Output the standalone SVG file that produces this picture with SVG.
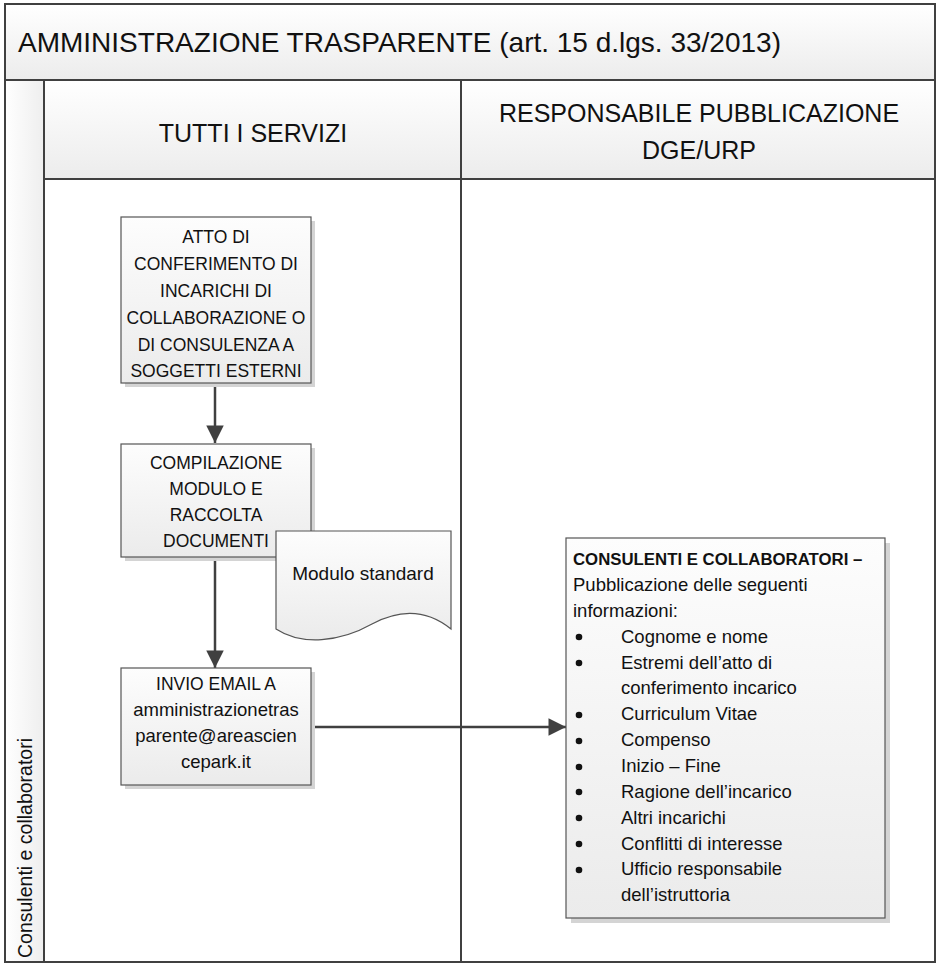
<svg xmlns="http://www.w3.org/2000/svg" width="940" height="967" viewBox="0 0 940 967">
<defs>
<linearGradient id="gBand" x1="0" y1="0" x2="0" y2="1"><stop offset="0" stop-color="#ffffff"/><stop offset="1" stop-color="#ececec"/></linearGradient>
<linearGradient id="gStrip" x1="0" y1="0" x2="1" y2="0"><stop offset="0" stop-color="#ffffff"/><stop offset="1" stop-color="#eeeeee"/></linearGradient>
<linearGradient id="gBox" x1="0" y1="0" x2="0" y2="1"><stop offset="0" stop-color="#fdfdfd"/><stop offset="1" stop-color="#ebebeb"/></linearGradient>
<marker id="arr" viewBox="0 0 10 10" refX="10" refY="5" markerWidth="7.2" markerHeight="7" markerUnits="strokeWidth" orient="auto"><path d="M0,0 L10,5 L0,10 Z" fill="#404040"/></marker>
</defs>
<style>
.frame{fill:none;stroke:#404040;stroke-width:2}
.box{fill:url(#gBox);stroke:#555555;stroke-width:1.2}
.shadow{fill:#d4d4d4}
.t{font-family:"Liberation Sans",Arial,sans-serif;fill:#111111}
.hdr{font-size:25px;text-anchor:middle}
.bx{font-size:17.5px;text-anchor:middle}
.lst{font-size:18.5px}
.conn{fill:none;stroke:#404040;stroke-width:2.5;marker-end:url(#arr)}
</style>
<rect x="0" y="0" width="940" height="967" fill="#ffffff"/>
<g id="pool">
<rect x="5" y="4" width="930" height="76" fill="url(#gBand)"/>
<rect x="5" y="80" width="39" height="882" fill="url(#gStrip)"/>
<rect x="44" y="80" width="417" height="99" fill="url(#gBand)"/>
<rect x="461" y="80" width="474" height="99" fill="url(#gBand)"/>
<rect x="5" y="4" width="930" height="958" class="frame"/>
<line x1="5" y1="80" x2="935" y2="80" class="frame"/>
<line x1="44" y1="80" x2="44" y2="962" class="frame"/>
<line x1="44" y1="179" x2="935" y2="179" class="frame"/>
<line x1="461" y1="80" x2="461" y2="962" class="frame"/>
<text class="t" x="18" y="52" font-size="28">AMMINISTRAZIONE TRASPARENTE (art. 15 d.lgs. 33/2013)</text>
<text class="t hdr" x="253" y="142">TUTTI I SERVIZI</text>
<text class="t hdr" x="699" y="122">RESPONSABILE PUBBLICAZIONE</text>
<text class="t hdr" x="699" y="159">DGE/URP</text>
<text class="t" font-size="19.5" transform="translate(32,958) rotate(-90)">Consulenti e collaboratori</text>
</g>
<g id="connectors">
<line x1="215" y1="383" x2="215" y2="443" class="conn"/>
<line x1="215" y1="557" x2="215" y2="668" class="conn"/>
<line x1="311" y1="727" x2="566" y2="727" class="conn"/>
</g>
<g id="n1">
<rect x="125" y="221" width="190" height="166" class="shadow"/>
<rect x="121" y="217" width="190" height="166" class="box"/>
<text class="t bx" x="216" y="243">ATTO DI</text>
<text class="t bx" x="216" y="270">CONFERIMENTO DI</text>
<text class="t bx" x="216" y="297">INCARICHI DI</text>
<text class="t bx" x="216" y="324">COLLABORAZIONE O</text>
<text class="t bx" x="216" y="351">DI CONSULENZA A</text>
<text class="t bx" x="216" y="377">SOGGETTI ESTERNI</text>
</g>
<g id="n2">
<rect x="125" y="448" width="190" height="113" class="shadow"/>
<rect x="121" y="444" width="190" height="113" class="box"/>
<text class="t bx" x="216" y="469">COMPILAZIONE</text>
<text class="t bx" x="216" y="495">MODULO E</text>
<text class="t bx" x="216" y="521">RACCOLTA</text>
<text class="t bx" x="216" y="547">DOCUMENTI</text>
</g>
<g id="doc">
<path d="M276,531 H451 V629 C425,608 398,610 372,624 C340,642 302,646 276,629 Z" fill="url(#gBox)" stroke="#555555" stroke-width="1.2"/>
<text class="t" x="363" y="580" font-size="19" text-anchor="middle">Modulo standard</text>
</g>
<g id="n3">
<rect x="125" y="672" width="190" height="117" class="shadow"/>
<rect x="121" y="668" width="190" height="117" class="box"/>
<text class="t bx" x="216" y="690">INVIO EMAIL A</text>
<text class="t" x="216" y="716" font-size="18.5" text-anchor="middle">amministrazionetras</text>
<text class="t" x="216" y="742" font-size="18.5" text-anchor="middle">parente@areascien</text>
<text class="t" x="216" y="768" font-size="18.5" text-anchor="middle">cepark.it</text>
</g>
<g id="n4">
<rect x="571" y="543" width="319" height="380" class="shadow"/>
<rect x="566" y="538" width="319" height="380" class="box"/>
<text class="t" x="573" y="565" font-size="16.8" font-weight="bold">CONSULENTI E COLLABORATORI –</text>
<text class="t lst" x="573" y="591">Pubblicazione delle seguenti</text>
<text class="t lst" x="573" y="617">informazioni:</text>
<g fill="#111111">
<circle cx="579" cy="637" r="3.3"/><circle cx="579" cy="663" r="3.3"/><circle cx="579" cy="715" r="3.3"/><circle cx="579" cy="741" r="3.3"/><circle cx="579" cy="767" r="3.3"/><circle cx="579" cy="792" r="3.3"/><circle cx="579" cy="818" r="3.3"/><circle cx="579" cy="844" r="3.3"/><circle cx="579" cy="870" r="3.3"/>
</g>
<text class="t lst" x="621" y="643">Cognome e nome</text>
<text class="t lst" x="621" y="669">Estremi dell’atto di</text>
<text class="t lst" x="621" y="694">conferimento incarico</text>
<text class="t lst" x="621" y="720">Curriculum Vitae</text>
<text class="t lst" x="621" y="746">Compenso</text>
<text class="t lst" x="621" y="772">Inizio – Fine</text>
<text class="t lst" x="621" y="798">Ragione dell’incarico</text>
<text class="t lst" x="621" y="824">Altri incarichi</text>
<text class="t lst" x="621" y="850">Conflitti di interesse</text>
<text class="t lst" x="621" y="875">Ufficio responsabile</text>
<text class="t lst" x="621" y="901">dell’istruttoria</text>
</g>
</svg>
